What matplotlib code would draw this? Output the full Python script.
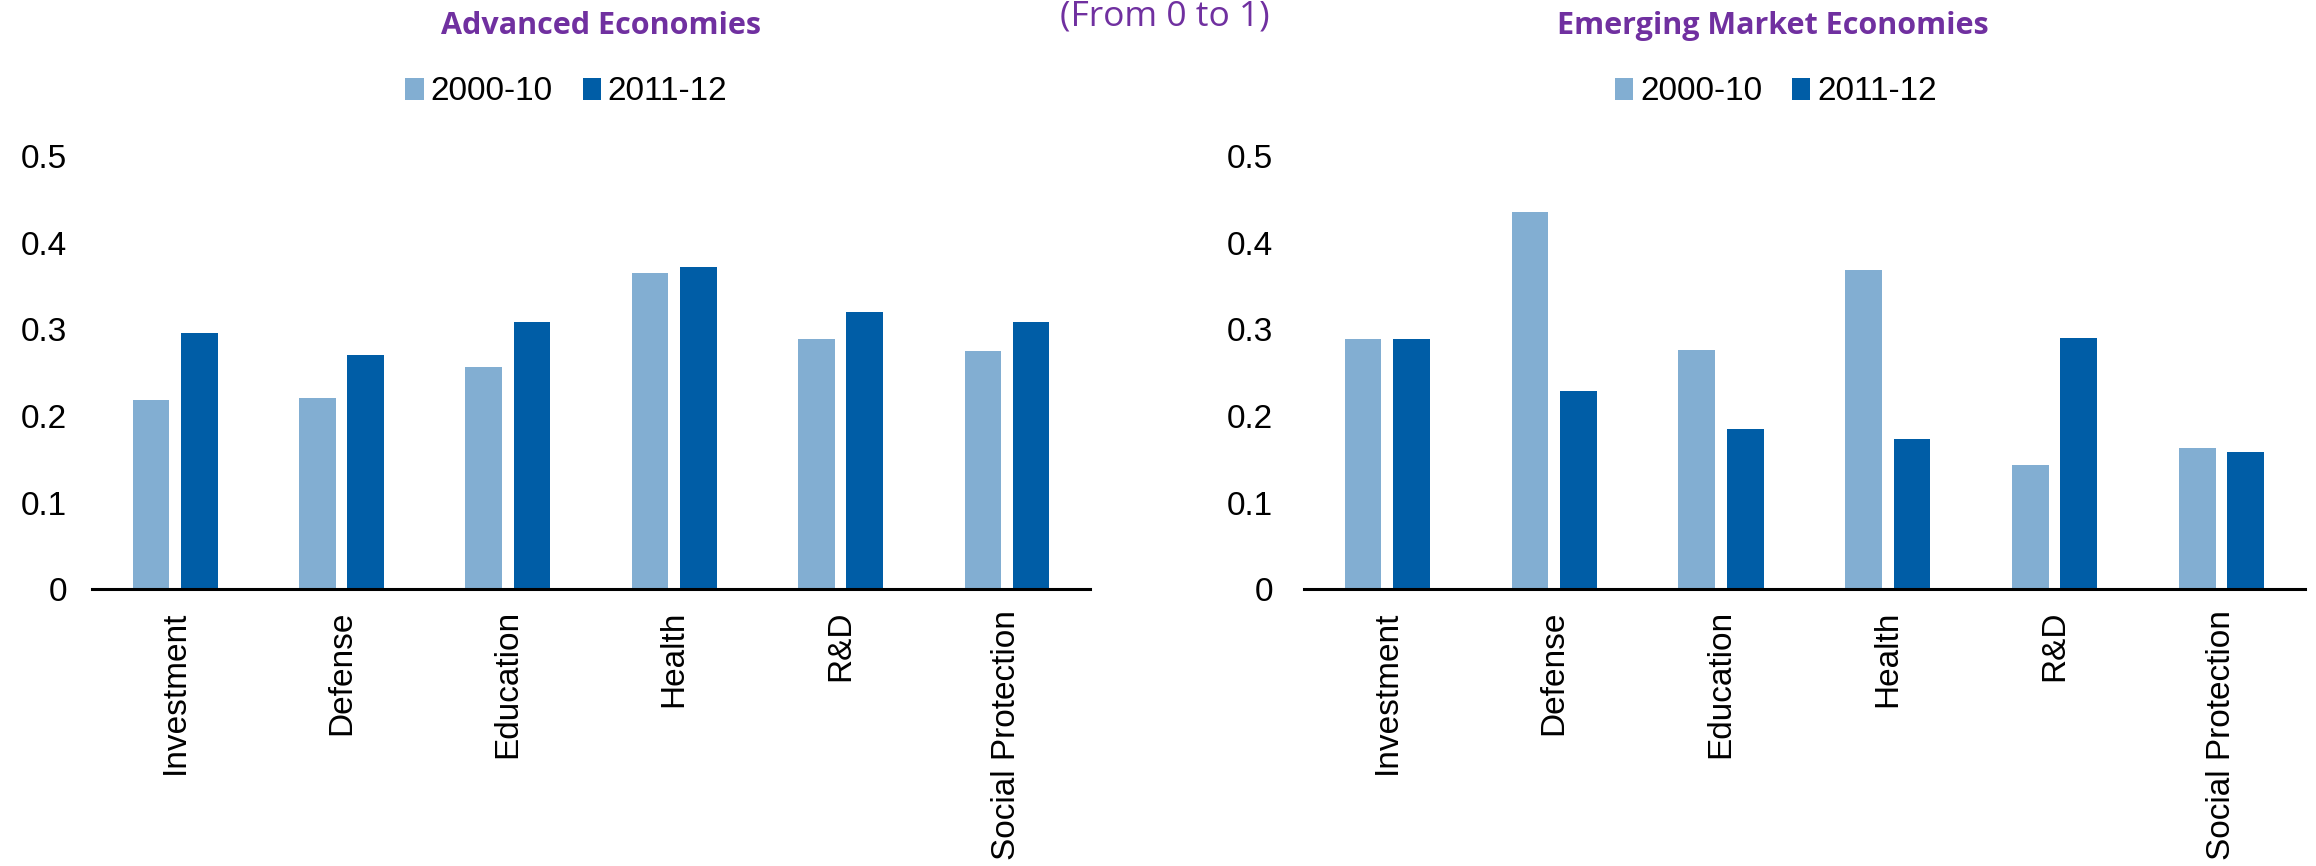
import numpy as np
import matplotlib
matplotlib.use('Agg')
import matplotlib.pyplot as plt

plt.rcParams['font.family'] = ['Liberation Sans', 'DejaVu Sans']

# Categories and values (from 0 to 1)
categories = ['Investment', 'Defense', 'Education', 'Health', 'R&D', 'Social Protection']
periods = ['2000-10', '2011-12']

adv_2000_10 = [0.218, 0.221, 0.257, 0.365, 0.289, 0.275]
adv_2011_12 = [0.296, 0.271, 0.308, 0.372, 0.320, 0.308]

eme_2000_10 = [0.289, 0.435, 0.276, 0.369, 0.144, 0.163]
eme_2011_12 = [0.289, 0.229, 0.185, 0.173, 0.290, 0.158]

light_blue = '#82AED2'
dark_blue = '#005DA6'
purple = '#7030A0'

fig = plt.figure(figsize=(23.16, 8.66), dpi=100)

ax_left = fig.add_axes([0.0397, 0.3193, 0.4310, 0.5006])
ax_right = fig.add_axes([0.5630, 0.3193, 0.4322, 0.5006])

x = np.arange(len(categories))
width = 0.22
offset = 0.145


def draw_panel(ax, first, second, ypad):
    ax.bar(x - offset, first, width, color=light_blue, label=periods[0])
    ax.bar(x + offset, second, width, color=dark_blue, label=periods[1])
    ax.set_xlim(-0.5, len(categories) - 0.5)
    ax.set_ylim(0, 0.5)
    ax.set_yticks([0, 0.1, 0.2, 0.3, 0.4, 0.5])
    ax.set_yticklabels(['0', '0.1', '0.2', '0.3', '0.4', '0.5'])
    ax.set_xticks(x)
    ax.set_xticklabels(categories, rotation=90)
    ax.tick_params(axis='x', length=0, pad=15, labelsize=24)
    ax.tick_params(axis='y', length=0, pad=ypad, labelsize=24)
    for side in ['top', 'right', 'left']:
        ax.spines[side].set_visible(False)
    ax.spines['bottom'].set_linewidth(2.2)
    ax.spines['bottom'].set_color('black')


draw_panel(ax_left, adv_2000_10, adv_2011_12, 18)
draw_panel(ax_right, eme_2000_10, eme_2011_12, 22)

# Panel titles
title_font = ['Open Sans', 'DejaVu Sans']
fig.text(0.2593, 0.9613, 'Advanced Economies', ha='center', va='baseline',
         fontsize=22, fontweight='bold', color=purple, family=title_font)
fig.text(0.7653, 0.9613, 'Emerging Market Economies', ha='center', va='baseline',
         fontsize=22, fontweight='bold', color=purple, family=title_font)
fig.text(0.503, 0.9711, '(From 0 to 1)', ha='center', va='baseline',
         fontsize=25.5, color=purple, family=title_font)

# Legends
for ax, cx in [(ax_left, 0.2445), (ax_right, 0.7668)]:
    ax.legend(loc='center', bbox_to_anchor=(cx, 0.8938), bbox_transform=fig.transFigure,
              ncol=2, frameon=False, fontsize=24, handlelength=0.55, handleheight=0.65,
              handletextpad=0.2, columnspacing=0.9, borderpad=0)

fig.savefig('out.png', dpi=100)
